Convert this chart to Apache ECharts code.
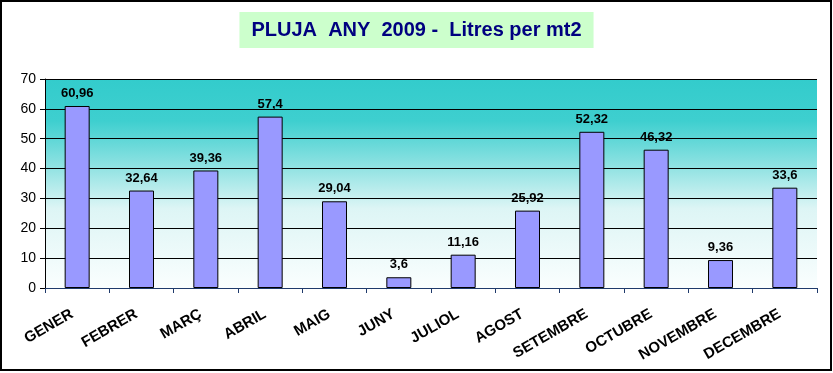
<!DOCTYPE html>
<html><head><meta charset="utf-8">
<script src="https://cdn.jsdelivr.net/npm/echarts@6/dist/echarts.min.js"></script>
<style>html,body{margin:0;padding:0;background:#fff}#c{width:833px;height:373px}</style>
</head><body><div id="c"></div>
<script>
const categories = ['GENER','FEBRER','MARÇ','ABRIL','MAIG','JUNY','JULIOL','AGOST','SETEMBRE','OCTUBRE','NOVEMBRE','DECEMBRE'];
const rainfall = [60.96, 32.64, 39.36, 57.4, 29.04, 3.6, 11.16, 25.92, 52.32, 46.32, 9.36, 33.6];
const titleText = 'PLUJA  ANY  2009 -  Litres per mt2';

const chart = echarts.init(document.getElementById('c'), null, {renderer:'canvas'});
chart.setOption({
  animation:false,
  backgroundColor:'#ffffff',
  title:{
    text:titleText, left:'center', top:12,
    backgroundColor:'#CCFFCC', padding:[8,12,8,12],
    textStyle:{fontFamily:'Liberation Sans, Arial', fontWeight:'bold', fontSize:20, color:'#000080'}
  },
  graphic:[{type:'rect', shape:{x:1,y:1,width:830,height:369}, style:{fill:null, stroke:'#000', lineWidth:2}, silent:true, z:100}],
  grid:{left:45, right:16, top:79, bottom:85, show:true, borderWidth:0,
    backgroundColor:{type:'linear', x:0,y:0,x2:0,y2:1, colorStops:[
      {offset:0,color:'#33CCCC'},{offset:0.2,color:'#3ECFCF'},{offset:0.45,color:'#9BE5E5'},
      {offset:0.62,color:'#DDF5F5'},{offset:1,color:'#FAFEFE'}]}},
  xAxis:{
    type:'category', data:categories, boundaryGap:true,
    axisLine:{lineStyle:{color:'#1F3A6B', width:1}},
    axisTick:{show:true, length:5, lineStyle:{color:'#1F3A6B'}},
    axisLabel:{rotate:30, margin:22, padding:[0,6,0,0], interval:0, fontFamily:'Liberation Sans, Arial', fontWeight:'bold', fontSize:15, color:'#000'}
  },
  yAxis:{
    type:'value', min:0, max:70, interval:10,
    axisLine:{show:true, lineStyle:{color:'#000'}},
    axisTick:{show:true, length:5, lineStyle:{color:'#000'}},
    axisLabel:{fontFamily:'Liberation Sans, Arial', fontSize:14, color:'#000', margin:9},
    splitLine:{lineStyle:{color:'#000', width:1}}
  },
  series:[{
    type:'bar', data:rainfall, barWidth:25,
    itemStyle:{color:'#9999FF', borderColor:'#000', borderWidth:1},
    label:{show:true, position:'top', distance:6, fontFamily:'Liberation Sans, Arial', fontWeight:'bold', fontSize:13, color:'#000',
      formatter:p=>String(p.value).replace('.',',')}
  }]
});
</script></body></html>
